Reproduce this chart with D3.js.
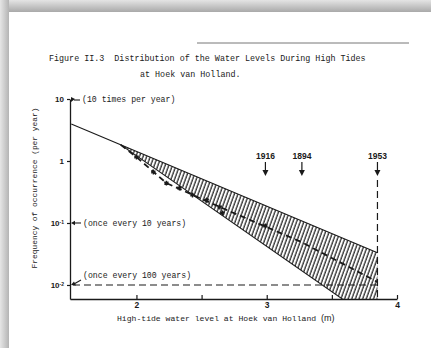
<!DOCTYPE html>
<html>
<head>
<meta charset="utf-8">
<script src="https://cdn.jsdelivr.net/npm/d3@7"></script>
<style>
  body { margin: 0; background: #fff; }
  svg { display: block; }
</style>
</head>
<body>
<svg id="chart" width="431" height="348"></svg>
<script>
// Exceedance frequency of high-tide levels at Hoek van Holland (per year, log scale)
const upperEdge = [[1.5, 3.95], [3.85, 0.033]];          // upper bound of the band
const bandApex = [1.88, 1.82];                            // where the band opens up
const lowerEdgeEnd = [3.85, 0.0024];                      // lower bound at the 1953 level
const centralEstimate = [[1.88, 1.82], [2.0, 1.16], [2.23, 0.44], [2.64, 0.181],
                         [3.26, 0.05], [3.85, 0.0112]];   // dashed best estimate
const observed = [[2.0, 1.16], [2.13, 0.665], [2.23, 0.44], [2.33, 0.367], [2.43, 0.283],
                  [2.54, 0.235], [2.64, 0.181], [2.66, 0.145], [2.99, 0.09]];
const floodYears = ["1916", "1894", "1953"];
const floodLevels = [2.99, 3.27, 3.85];
const xTicks = [2, 2.5, 3, 3.5, 4];
const xTickLabels = ["2", "", "3", "", "4"];
const yTicks = [10, 1, 0.1, 0.01];
const yTickBase = ["10", "1", "10", "10"];
const yTickExp = ["", "", "-1", "-2"];
const returnNotes = ["(10 times per year)", "(once every 10 years)", "(once every 100 years)"];
const titleLines = ["Figure II.3  Distribution of the Water Levels During High Tides",
                    "at Hoek van Holland."];
const xTitle = "High-tide water level at Hoek van Holland ";
const xUnit = "(m)";
const yTitle = "Frequency of occurrence (per year)";

const svg = d3.select("#chart");
const mono = "'Liberation Mono', 'Courier New', monospace";
const sans = "'Liberation Sans', Arial, sans-serif";
const ink = "#1a1a1a";

// --- page with drop shadow ---
const defs = svg.append("defs");
const gTop = defs.append("linearGradient").attr("id", "shTop").attr("x1", 0).attr("y1", 0).attr("x2", 0).attr("y2", 1);
gTop.append("stop").attr("offset", 0).attr("stop-color", "#e4e4e4");
gTop.append("stop").attr("offset", 1).attr("stop-color", "#a9a9a9");
const gLeft = defs.append("linearGradient").attr("id", "shLeft").attr("x1", 0).attr("y1", 0).attr("x2", 1).attr("y2", 0);
gLeft.append("stop").attr("offset", 0).attr("stop-color", "#e6e6e6");
gLeft.append("stop").attr("offset", 1).attr("stop-color", "#b4b4b4");
svg.append("rect").attr("x", 0).attr("y", 0).attr("width", 431).attr("height", 12).attr("fill", "url(#shTop)");
svg.append("rect").attr("x", 0).attr("y", 0).attr("width", 9).attr("height", 348).attr("fill", "url(#shLeft)");
svg.append("rect").attr("x", 9).attr("y", 12).attr("width", 422).attr("height", 336).attr("fill", "#fff");

// hatch pattern for the band
const pat = defs.append("pattern").attr("id", "hatch").attr("patternUnits", "userSpaceOnUse")
  .attr("width", 3.4).attr("height", 10).attr("patternTransform", "rotate(20)");
pat.append("line").attr("x1", 1).attr("y1", 0).attr("x2", 1).attr("y2", 10)
  .attr("stroke", ink).attr("stroke-width", 1.2);

// --- heading ---
svg.append("line").attr("x1", 197).attr("x2", 409).attr("y1", 43).attr("y2", 43)
  .attr("stroke", "#777").attr("stroke-width", 1);
svg.append("text").attr("x", 49).attr("y", 61).attr("font-family", mono).attr("font-size", 8.4)
  .attr("fill", ink).attr("xml:space", "preserve").text(titleLines[0]);
svg.append("text").attr("x", 140).attr("y", 77).attr("font-family", mono).attr("font-size", 8.4)
  .attr("fill", ink).text(titleLines[1]);

// --- scales ---
const x = d3.scaleLinear().domain([1.49, 4]).range([70, 397]);
const y = d3.scaleLog().domain([Math.pow(10, -2.226), 10]).range([299, 99]);

defs.append("clipPath").attr("id", "plot").append("rect")
  .attr("x", 70).attr("y", 90).attr("width", 330).attr("height", 209);

const plot = svg.append("g").attr("clip-path", "url(#plot)");
const line = d3.line().x(d => x(d[0])).y(d => y(d[1]));

// band between the upper and lower bounds
plot.append("path")
  .attr("d", line([bandApex, upperEdge[1], lowerEdgeEnd]) + "Z")
  .attr("fill", "url(#hatch)").attr("stroke", "none");
// lower bound line
plot.append("path").attr("d", line([bandApex, lowerEdgeEnd]))
  .attr("fill", "none").attr("stroke", ink).attr("stroke-width", 1.1);
// upper bound line (continues to the left of the band as a single line)
plot.append("path").attr("d", line(upperEdge))
  .attr("fill", "none").attr("stroke", ink).attr("stroke-width", 1.1);

// central estimate
plot.append("path").attr("d", line(centralEstimate))
  .attr("fill", "none").attr("stroke", ink).attr("stroke-width", 1.8)
  .attr("stroke-dasharray", "6,4");

// observed points
plot.selectAll(".obs").data(observed).join("path")
  .attr("class", "obs")
  .attr("transform", d => `translate(${x(d[0])},${y(d[1])})`)
  .attr("d", d3.symbol(d3.symbolAsterisk, 16))
  .attr("fill", "none").attr("stroke", ink).attr("stroke-width", 1.4);

// once-every-100-years level
svg.append("line")
  .attr("x1", x(1.49) + 3).attr("x2", x(floodLevels[2]))
  .attr("y1", y(0.01)).attr("y2", y(0.01))
  .attr("stroke", ink).attr("stroke-width", 1.2).attr("stroke-dasharray", "7,4");

// 1953 level, vertical dashed
svg.append("line")
  .attr("x1", x(floodLevels[2])).attr("x2", x(floodLevels[2]))
  .attr("y1", 180).attr("y2", 299)
  .attr("stroke", ink).attr("stroke-width", 1.2).attr("stroke-dasharray", "7,4");

// flood year markers
const flood = svg.selectAll(".flood").data(floodYears).join("g")
  .attr("class", "flood")
  .attr("transform", (d, i) => `translate(${x(floodLevels[i])},0)`);
flood.append("text").attr("y", 159).attr("text-anchor", "middle")
  .attr("font-family", sans).attr("font-weight", "bold").attr("font-size", 8.5)
  .attr("fill", ink).text(d => d);
flood.append("line").attr("x1", 0).attr("x2", 0).attr("y1", 162).attr("y2", 172)
  .attr("stroke", ink).attr("stroke-width", 1.2);
flood.append("path").attr("d", "M-3,170L3,170L0,176Z").attr("fill", ink);

// --- axes ---
const xAxis = svg.append("g").attr("transform", "translate(0,299)")
  .call(d3.axisBottom(x).tickValues(xTicks).tickSize(-4).tickSizeOuter(0).tickPadding(3)
    .tickFormat((d, i) => xTickLabels[i]));
xAxis.select(".domain").attr("stroke", ink).attr("stroke-width", 1.3);
xAxis.selectAll(".tick line").attr("stroke", ink).attr("stroke-width", 1.2);
xAxis.selectAll(".tick text").attr("font-family", sans).attr("font-weight", "bold")
  .attr("font-size", 8.5).attr("fill", ink);

const yAxis = svg.append("g").attr("transform", "translate(70,0)")
  .call(d3.axisLeft(y).tickValues(yTicks).tickSize(3).tickSizeOuter(0).tickFormat(""));
yAxis.select(".domain").attr("stroke", ink).attr("stroke-width", 1.3);
yAxis.selectAll(".tick line").attr("stroke", ink).attr("stroke-width", 1.2);
yAxis.selectAll(".tick").each(function (d, i) {
  const t = d3.select(this).append("text")
    .attr("x", -6).attr("dy", "0.35em").attr("text-anchor", "end")
    .attr("font-family", sans).attr("font-weight", "bold").attr("font-size", 8).attr("fill", ink);
  t.append("tspan").text(yTickBase[i]);
  if (yTickExp[i]) {
    t.append("tspan").attr("dy", "-0.45em").attr("font-size", 5).text(yTickExp[i]);
  }
});

// return-period notes with pointers to the axis
const noteStyle = s => s.attr("font-family", mono).attr("font-size", 8.2).attr("fill", ink);
svg.append("text").attr("x", 82).attr("y", y(10) + 3).call(noteStyle).text(returnNotes[0]);
svg.append("path").attr("d", `M71,${y(10) - 2}L75,${y(10)}L71,${y(10) + 3}Z`).attr("fill", ink);
svg.append("line").attr("x1", 74).attr("x2", 80).attr("y1", y(10) + 1).attr("y2", y(10) + 1)
  .attr("stroke", ink).attr("stroke-width", 1.1);

svg.append("text").attr("x", 83).attr("y", y(0.1) + 3).call(noteStyle).text(returnNotes[1]);
svg.append("line").attr("x1", 73).attr("x2", 81).attr("y1", y(0.1)).attr("y2", y(0.1))
  .attr("stroke", ink).attr("stroke-width", 1.1);
svg.append("path").attr("d", `M71,${y(0.1)}L75,${y(0.1) - 2.2}L75,${y(0.1) + 2.2}Z`).attr("fill", ink);

svg.append("text").attr("x", 83).attr("y", y(0.01) - 7).call(noteStyle).text(returnNotes[2]);
svg.append("line").attr("x1", 74).attr("x2", 81).attr("y1", y(0.01) - 1).attr("y2", y(0.01) - 5)
  .attr("stroke", ink).attr("stroke-width", 1.1);
svg.append("path").attr("d", `M71,${y(0.01)}L74,${y(0.01) - 3.5}L76,${y(0.01) + 0.5}Z`).attr("fill", ink);

// axis titles
const xt = svg.append("text").attr("x", 117).attr("y", 321)
  .attr("font-family", mono).attr("font-size", 8.1).attr("fill", ink).attr("xml:space", "preserve");
xt.append("tspan").text(xTitle);
xt.append("tspan").attr("font-family", sans).attr("font-size", 9).text(xUnit);

svg.append("text").attr("transform", "translate(37,188) rotate(-90)")
  .attr("text-anchor", "middle").attr("font-family", mono).attr("font-size", 7.9)
  .attr("fill", ink).text(yTitle);
</script>
</body>
</html>
